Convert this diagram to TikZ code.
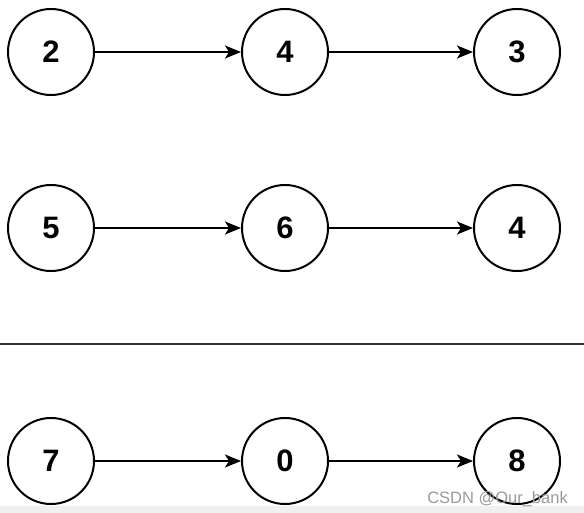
\documentclass[tikz,border=0pt]{standalone}
\usepackage{fontspec}
\setmainfont{Liberation Sans}
\usetikzlibrary{arrows.meta,positioning}
\tikzset{
  digit/.style={draw, circle, line width=2pt, minimum size=86pt, inner sep=0pt,
                font=\fontsize{31}{34}\selectfont\bfseries},
  link/.style={-{Stealth[length=16pt,width=13pt,inset=4pt]}, line width=2pt},
  rule/.style={draw=black!80, line width=2.2pt},
  mark strip/.style={fill=black!6},
}
\begin{document}
\begin{tikzpicture}[x=1pt, y=-1pt]
\useasboundingbox (0,0) rectangle (584,513);
% three lists, one row each
\foreach \r/\y/\a/\b/\c in {1/52/2/4/3, 2/228/5/6/4, 3/461/7/0/8} {
  \node[digit] (n\r0) at (51,\y) {\a};
  \node[digit] (n\r1) at (285,\y) {\b};
  \node[digit] (n\r2) at (517,\y) {\c};
  \draw[link] (n\r0) -- (n\r1);
  \draw[link] (n\r1) -- (n\r2);
}
% separator
\coordinate (sepL) at (0,344);
\coordinate (sepR) at (584,344);
\draw[rule] (sepL) -- (sepR);
% bottom strip and watermark
\fill[mark strip] (0,506) rectangle (584,513);
\node[font=\fontsize{16.5}{18}\selectfont, text=black!40, anchor=base east,
      inner sep=0pt] (wm) at (568,503) {CSDN @Our\_bank};
\end{tikzpicture}
\end{document}
